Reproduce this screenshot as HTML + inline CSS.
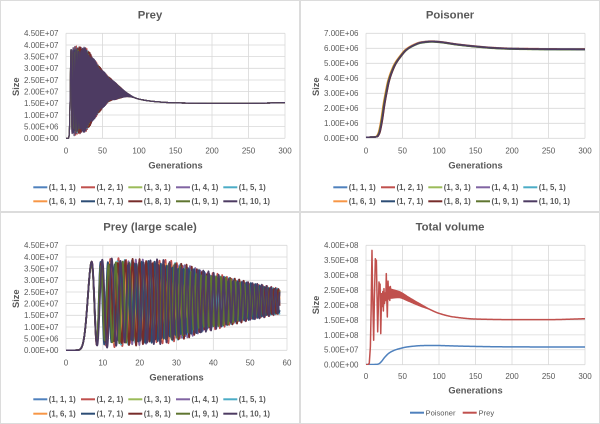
<!DOCTYPE html>
<html><head><meta charset="utf-8">
<style>
html,body{margin:0;padding:0;background:#fff;}
svg{display:block}
text{font-family:"Liberation Sans",sans-serif;fill:#595959}
.t{font-size:11.3px;font-weight:bold}
.ax{font-size:9.3px;font-weight:bold}
.tk{font-size:8px}
.yl{text-anchor:end}
.xl{text-anchor:middle}
.lg{font-size:7.8px;font-weight:bold}
.lg4{font-size:7.6px}
</style></head>
<body>
<svg id="s" width="600" height="424" viewBox="0 0 600 424" xmlns="http://www.w3.org/2000/svg">
<rect width="600" height="424" fill="#fff"/>
<g fill="none" stroke="#DCDCDC">
<rect x="0.5" y="0.5" width="299" height="211"/>
<rect x="300.5" y="0.5" width="299" height="211"/>
<rect x="0.5" y="212.5" width="299" height="211"/>
<rect x="300.5" y="212.5" width="299" height="211"/>
</g>
<defs>
<clipPath id="c1"><rect x="66" y="30" width="219" height="109"/></clipPath>
<clipPath id="c2"><rect x="366" y="30" width="219" height="109"/></clipPath>
<clipPath id="c3"><rect x="66" y="242" width="221" height="109"/></clipPath>
<clipPath id="c4"><rect x="366" y="242" width="219" height="123"/></clipPath>
</defs>
<g id="grid" stroke="#D9D9D9" stroke-width="0.8" fill="none"></g>
<g id="p1" clip-path="url(#c1)" fill="none" stroke-width="1.2" stroke-linejoin="round"></g>
<g id="p2" clip-path="url(#c2)" fill="none" stroke-width="1.5" stroke-linejoin="round"></g>
<g id="p3" clip-path="url(#c3)" fill="none" stroke-width="1.7" stroke-linejoin="round"></g>
<g id="p4" clip-path="url(#c4)" fill="none" stroke-width="1.5" stroke-linejoin="round"></g>
<g id="leg" fill="none" stroke-width="2"></g>

<!-- Titles -->
<text class="t" x="150" y="18.7" text-anchor="middle">Prey</text>
<text class="t" x="450" y="18.7" text-anchor="middle">Poisoner</text>
<text class="t" x="150" y="230.7" text-anchor="middle">Prey (large scale)</text>
<text class="t" x="450" y="230.7" text-anchor="middle">Total volume</text>

<!-- Axis titles -->
<text class="ax" x="175.5" y="168.3" text-anchor="middle">Generations</text>
<text class="ax" x="475.5" y="168.3" text-anchor="middle">Generations</text>
<text class="ax" x="176.5" y="380.3" text-anchor="middle">Generations</text>
<text class="ax" x="475.5" y="393.6" text-anchor="middle">Generations</text>
<text class="ax" transform="translate(19.2,86.7) rotate(-90)" text-anchor="middle">Size</text>
<text class="ax" transform="translate(319.2,86.7) rotate(-90)" text-anchor="middle">Size</text>
<text class="ax" transform="translate(19.2,298.7) rotate(-90)" text-anchor="middle">Size</text>
<text class="ax" transform="translate(319.2,305) rotate(-90)" text-anchor="middle">Size</text>

<!-- P1 y ticks -->
<g class="tk yl">
<text x="58.5" y="141.2">0.00E+00</text>
<text x="58.5" y="129.5">5.00E+06</text>
<text x="58.5" y="117.9">1.00E+07</text>
<text x="58.5" y="106.2">1.50E+07</text>
<text x="58.5" y="94.5">2.00E+07</text>
<text x="58.5" y="82.9">2.50E+07</text>
<text x="58.5" y="71.2">3.00E+07</text>
<text x="58.5" y="59.5">3.50E+07</text>
<text x="58.5" y="47.9">4.00E+07</text>
<text x="58.5" y="36.2">4.50E+07</text>
</g>
<!-- P2 y ticks -->
<g class="tk yl">
<text x="358.5" y="141.2">0.00E+00</text>
<text x="358.5" y="126.2">1.00E+06</text>
<text x="358.5" y="111.2">2.00E+06</text>
<text x="358.5" y="96.2">3.00E+06</text>
<text x="358.5" y="81.2">4.00E+06</text>
<text x="358.5" y="66.2">5.00E+06</text>
<text x="358.5" y="51.2">6.00E+06</text>
<text x="358.5" y="36.2">7.00E+06</text>
</g>
<!-- P3 y ticks -->
<g class="tk yl">
<text x="58.5" y="353.2">0.00E+00</text>
<text x="58.5" y="341.5">5.00E+06</text>
<text x="58.5" y="329.9">1.00E+07</text>
<text x="58.5" y="318.2">1.50E+07</text>
<text x="58.5" y="306.5">2.00E+07</text>
<text x="58.5" y="294.9">2.50E+07</text>
<text x="58.5" y="283.2">3.00E+07</text>
<text x="58.5" y="271.5">3.50E+07</text>
<text x="58.5" y="259.9">4.00E+07</text>
<text x="58.5" y="248.2">4.50E+07</text>
</g>
<!-- P4 y ticks -->
<g class="tk yl">
<text x="358.5" y="367.6">0.00E+00</text>
<text x="358.5" y="352.7">5.00E+07</text>
<text x="358.5" y="337.8">1.00E+08</text>
<text x="358.5" y="322.8">1.50E+08</text>
<text x="358.5" y="307.9">2.00E+08</text>
<text x="358.5" y="293.0">2.50E+08</text>
<text x="358.5" y="278.1">3.00E+08</text>
<text x="358.5" y="263.1">3.50E+08</text>
<text x="358.5" y="248.2">4.00E+08</text>
</g>
<!-- X ticks -->
<g class="tk xl">
<text x="66" y="153.6">0</text><text x="102.5" y="153.6">50</text><text x="139" y="153.6">100</text><text x="175.5" y="153.6">150</text><text x="212" y="153.6">200</text><text x="248.5" y="153.6">250</text><text x="285" y="153.6">300</text>
<text x="366" y="153.6">0</text><text x="402.5" y="153.6">50</text><text x="439" y="153.6">100</text><text x="475.5" y="153.6">150</text><text x="512" y="153.6">200</text><text x="548.5" y="153.6">250</text><text x="585" y="153.6">300</text>
<text x="66" y="365.6">0</text><text x="102.8" y="365.6">10</text><text x="139.7" y="365.6">20</text><text x="176.5" y="365.6">30</text><text x="213.3" y="365.6">40</text><text x="250.2" y="365.6">50</text><text x="287" y="365.6">60</text>
<text x="366" y="379.2">0</text><text x="402.5" y="379.2">50</text><text x="439" y="379.2">100</text><text x="475.5" y="379.2">150</text><text x="512" y="379.2">200</text><text x="548.5" y="379.2">250</text><text x="585" y="379.2">300</text>
</g>

<!-- Legends -->
<g class="lg">
<text x="48.8" y="190.1">(1, 1, 1)</text>
<text x="96.5" y="190.1">(1, 2, 1)</text>
<text x="143.8" y="190.1">(1, 3, 1)</text>
<text x="191.5" y="190.1">(1, 4, 1)</text>
<text x="238.8" y="190.1">(1, 5, 1)</text>
<text x="48.8" y="204.1">(1, 6, 1)</text>
<text x="96.5" y="204.1">(1, 7, 1)</text>
<text x="143.8" y="204.1">(1, 8, 1)</text>
<text x="191.5" y="204.1">(1, 9, 1)</text>
<text x="238.8" y="204.1">(1, 10, 1)</text>
<text x="348.8" y="190.1">(1, 1, 1)</text>
<text x="396.5" y="190.1">(1, 2, 1)</text>
<text x="443.8" y="190.1">(1, 3, 1)</text>
<text x="491.5" y="190.1">(1, 4, 1)</text>
<text x="538.8" y="190.1">(1, 5, 1)</text>
<text x="348.8" y="204.1">(1, 6, 1)</text>
<text x="396.5" y="204.1">(1, 7, 1)</text>
<text x="443.8" y="204.1">(1, 8, 1)</text>
<text x="491.5" y="204.1">(1, 9, 1)</text>
<text x="538.8" y="204.1">(1, 10, 1)</text>
<text x="48.8" y="402.1">(1, 1, 1)</text>
<text x="96.5" y="402.1">(1, 2, 1)</text>
<text x="143.8" y="402.1">(1, 3, 1)</text>
<text x="191.5" y="402.1">(1, 4, 1)</text>
<text x="238.8" y="402.1">(1, 5, 1)</text>
<text x="48.8" y="416.5">(1, 6, 1)</text>
<text x="96.5" y="416.5">(1, 7, 1)</text>
<text x="143.8" y="416.5">(1, 8, 1)</text>
<text x="191.5" y="416.5">(1, 9, 1)</text>
<text x="238.8" y="416.5">(1, 10, 1)</text>
</g>
<g class="lg4">
<text x="425.5" y="415.5">Poisoner</text>
<text x="478.5" y="415.5">Prey</text>
</g>
</svg>
<script>
(function(){
var NS="http://www.w3.org/2000/svg";
var C=['#4F81BD','#C0504D','#9BBB59','#8064A2','#4BACC6','#F79646','#2C4D75','#772C2A','#5F7530','#4D3B62'];
function el(g,tag,attrs){var e=document.createElementNS(NS,tag);for(var k in attrs)e.setAttribute(k,attrs[k]);g.appendChild(e);return e;}
var P=[
 {x0:66,x1:285,yt:33.3,yb:138.3,ny:9,nx:6,xm:300,ym:4.5e7},
 {x0:366,x1:585,yt:33.3,yb:138.3,ny:7,nx:6,xm:300,ym:7e6},
 {x0:66,x1:287,yt:245.3,yb:350.3,ny:9,nx:6,xm:60,ym:4.5e7},
 {x0:366,x1:585,yt:245.3,yb:364.7,ny:8,nx:6,xm:300,ym:4e8}];
var grid=document.getElementById('grid');
P.forEach(function(p){
 for(var i=0;i<=p.ny;i++){var y=p.yb-i*(p.yb-p.yt)/p.ny;el(grid,'line',{x1:p.x0,x2:p.x1,y1:y,y2:y});}
 for(var j=0;j<=p.nx;j++){var x=p.x0+j*(p.x1-p.x0)/p.nx;el(grid,'line',{x1:x,x2:x,y1:p.yt,y2:p.yb});}
});
function spline(pts){
 var n=pts.length,m=[];
 for(var i=0;i<n;i++){
  if(i==0)m.push((pts[1][1]-pts[0][1])/(pts[1][0]-pts[0][0]));
  else if(i==n-1)m.push((pts[n-1][1]-pts[n-2][1])/(pts[n-1][0]-pts[n-2][0]));
  else{var d0=(pts[i][1]-pts[i-1][1])/(pts[i][0]-pts[i-1][0]),d1=(pts[i+1][1]-pts[i][1])/(pts[i+1][0]-pts[i][0]);
   m.push(d0*d1<=0?0:2/(1/d0+1/d1));}
 }
 return function(t){
  if(t<=pts[0][0])return pts[0][1];
  if(t>=pts[n-1][0])return pts[n-1][1];
  var i=1;while(pts[i][0]<t)i++;
  var x0=pts[i-1][0],h=pts[i][0]-x0,s=(t-x0)/h,y0=pts[i-1][1],y1=pts[i][1];
  var s2=s*s,s3=s2*s;
  return (2*s3-3*s2+1)*y0+(s3-2*s2+s)*h*m[i-1]+(-2*s3+3*s2)*y1+(s3-s2)*h*m[i];
 };
}
function lin(pts){return function(t){
 if(t<=pts[0][0])return pts[0][1];
 for(var i=1;i<pts.length;i++){if(t<=pts[i][0]){var a=pts[i-1],b=pts[i];return a[1]+(b[1]-a[1])*(t-a[0])/(b[0]-a[0]);}}
 return pts[pts.length-1][1];};}
var mean=spline([[7,2.0],[15,2.05],[40,2.1],[58,2.1],[70,2.0],[85,1.85],[100,1.68],[120,1.58],[150,1.52],[200,1.5],[250,1.5],[300,1.53]]);
var amp=spline([[7,1.8],[15,1.78],[27,1.68],[40,1.15],[50,0.78],[58,0.52],[70,0.3],[85,0.06],[95,0],[300,0]]);
var a=1.15,b=1.85,c=1/16;
function I(u){return (Math.log(a*Math.exp(c*u)+b)-Math.log(a+b))/(a*c);}
var D=[0.03,0.06,0.015,0.045,0.075,0.025,0.055,0.07,0.04,0];
var TH=[2.6,0.7,4.1,5.3,1.6,3.3,5.9,1.1,4.7,0];
var AK=[0.93,1.0,0.88,0.98,0.96,0.9,0.95,0.99,0.92,1.0];
function prey(t,k){
 if(t<7)return 3.8*Math.exp(-Math.pow((t-7)/1.5,2));
 var u=t-7;
 var th=TH[k]*Math.min(1,Math.max(0,(u-1.2)/9));
 var ph=2*Math.PI*(1+D[k])*I(u)+th;
 var mod=1+0.07*Math.sin(0.45*t+k*1.7)*Math.min(1,u/4);
 return mean(t)+amp(t)*AK[k]*mod*Math.cos(ph);
}
function draw(gid,p,f,col,ts){
 var g=document.getElementById(gid),s='';
 for(var i=0;i<ts.length;i++){var t=ts[i];var v=f(t);
  var x=p.x0+t/p.xm*(p.x1-p.x0),y=p.yb-v/p.ym*(p.yb-p.yt);
  s+=x.toFixed(2)+','+y.toFixed(2)+' ';}
 el(g,'polyline',{points:s,stroke:col});
}
var t1=[];for(var t=0;t<100;t+=0.04)t1.push(t);for(t=100;t<=300;t+=1)t1.push(t);
var t3=[];for(t=0;t<=58.0001;t+=0.04)t3.push(t);
var t2=[];for(t=0;t<=300;t+=0.5)t2.push(t);
for(var k=0;k<10;k++){
 (function(k){
  draw('p1',P[0],function(t){return prey(t,k)*1e7;},C[k],t1);
  draw('p3',P[2],function(t){return prey(t,k)*1e7;},C[k],t3);
 })(k);
}
var pois=spline([[0,0.07],[10,0.08],[15,0.12],[18,0.35],[20,0.75],[22,1.3],[25,2.3],[28,3.1],[31,3.8],[35,4.4],[40,4.95],[47,5.45],[55,5.9],[65,6.2],[75,6.38],[90,6.45],[100,6.42],[125,6.25],[150,6.12],[175,6.02],[200,5.97],[250,5.94],[300,5.93]]);
var O=[0.3,-0.4,0.6,-0.2,0.1,-1.3,0.4,0.8,-0.6,0.2];
var S=[1,1.005,0.995,1.0,1.003,1.0,0.997,1.002,0.998,1.0];
function pk(t,k){return pois(t-O[k])*S[k];}
for(k=0;k<10;k++){(function(k){draw('p2',P[1],function(t){return pk(t,k)*1e6;},C[k],t2);})(k);}
draw('p4',P[3],function(t){var s=0;for(var k=0;k<10;k++)s+=pk(t,k);return s*1e6;},'#4F81BD',t2);
var redE=lin([[0,0],[3,0.005],[4.5,0.05],[6,0.6],[7,1.8],[8.2,3.83],[9,2.5],[10.5,0.82],[11.5,2.2],[12.8,3.55],[13.5,3.4],[14.2,3.5],[16,1.1],[17,2.0],[17.8,2.77],[18.6,2.55],[19.3,2.7],[20.2,1.04],[21.4,2.38],[22.2,1.95],[23,2.45],[23.8,1.8],[24.6,2.55],[25.4,2.05],[26.2,2.4],[27.1,2.15],[27.8,3.05],[28.6,2.1],[29.2,1.6],[30.2,2.8],[31,2.2],[31.8,2.6],[32.6,2.15],[33.4,2.62],[34.2,2.3]]);
var meanR=spline([[34.2,2.38],[45,2.35],[58,2.2],[70,2.05],[85,1.88],[100,1.72],[120,1.6],[150,1.53],[200,1.51],[250,1.51],[300,1.54]]);
var B=spline([[34.2,0.15],[45,0.1],[60,0.06],[75,0.03],[88,0],[300,0]]);
var t4=[];for(t=0;t<100;t+=0.05)t4.push(t);for(t=100;t<=300;t+=1)t4.push(t);
draw('p4',P[3],function(t){
 if(t<=34.2)return redE(t)*1e8;
 return (meanR(t)+B(t)*Math.cos(2*Math.PI*1.6*I(t-7)))*1e8;
},'#C0504D',t4);
var lg=document.getElementById('leg');
var L=[33.3,81,128.3,176,223.3];
[[0,187.3,201.3],[300,187.3,201.3],[0,399.3,413.7]].forEach(function(o){
 for(var i=0;i<5;i++){
  el(lg,'line',{x1:o[0]+L[i],x2:o[0]+L[i]+14,y1:o[1],y2:o[1],stroke:C[i]});
  el(lg,'line',{x1:o[0]+L[i],x2:o[0]+L[i]+14,y1:o[2],y2:o[2],stroke:C[i+5]});
 }
});
el(lg,'line',{x1:410,x2:424,y1:412.7,y2:412.7,stroke:'#4F81BD'});
el(lg,'line',{x1:462.7,x2:476.7,y1:412.7,y2:412.7,stroke:'#C0504D'});
})();
</script>
</body></html>
